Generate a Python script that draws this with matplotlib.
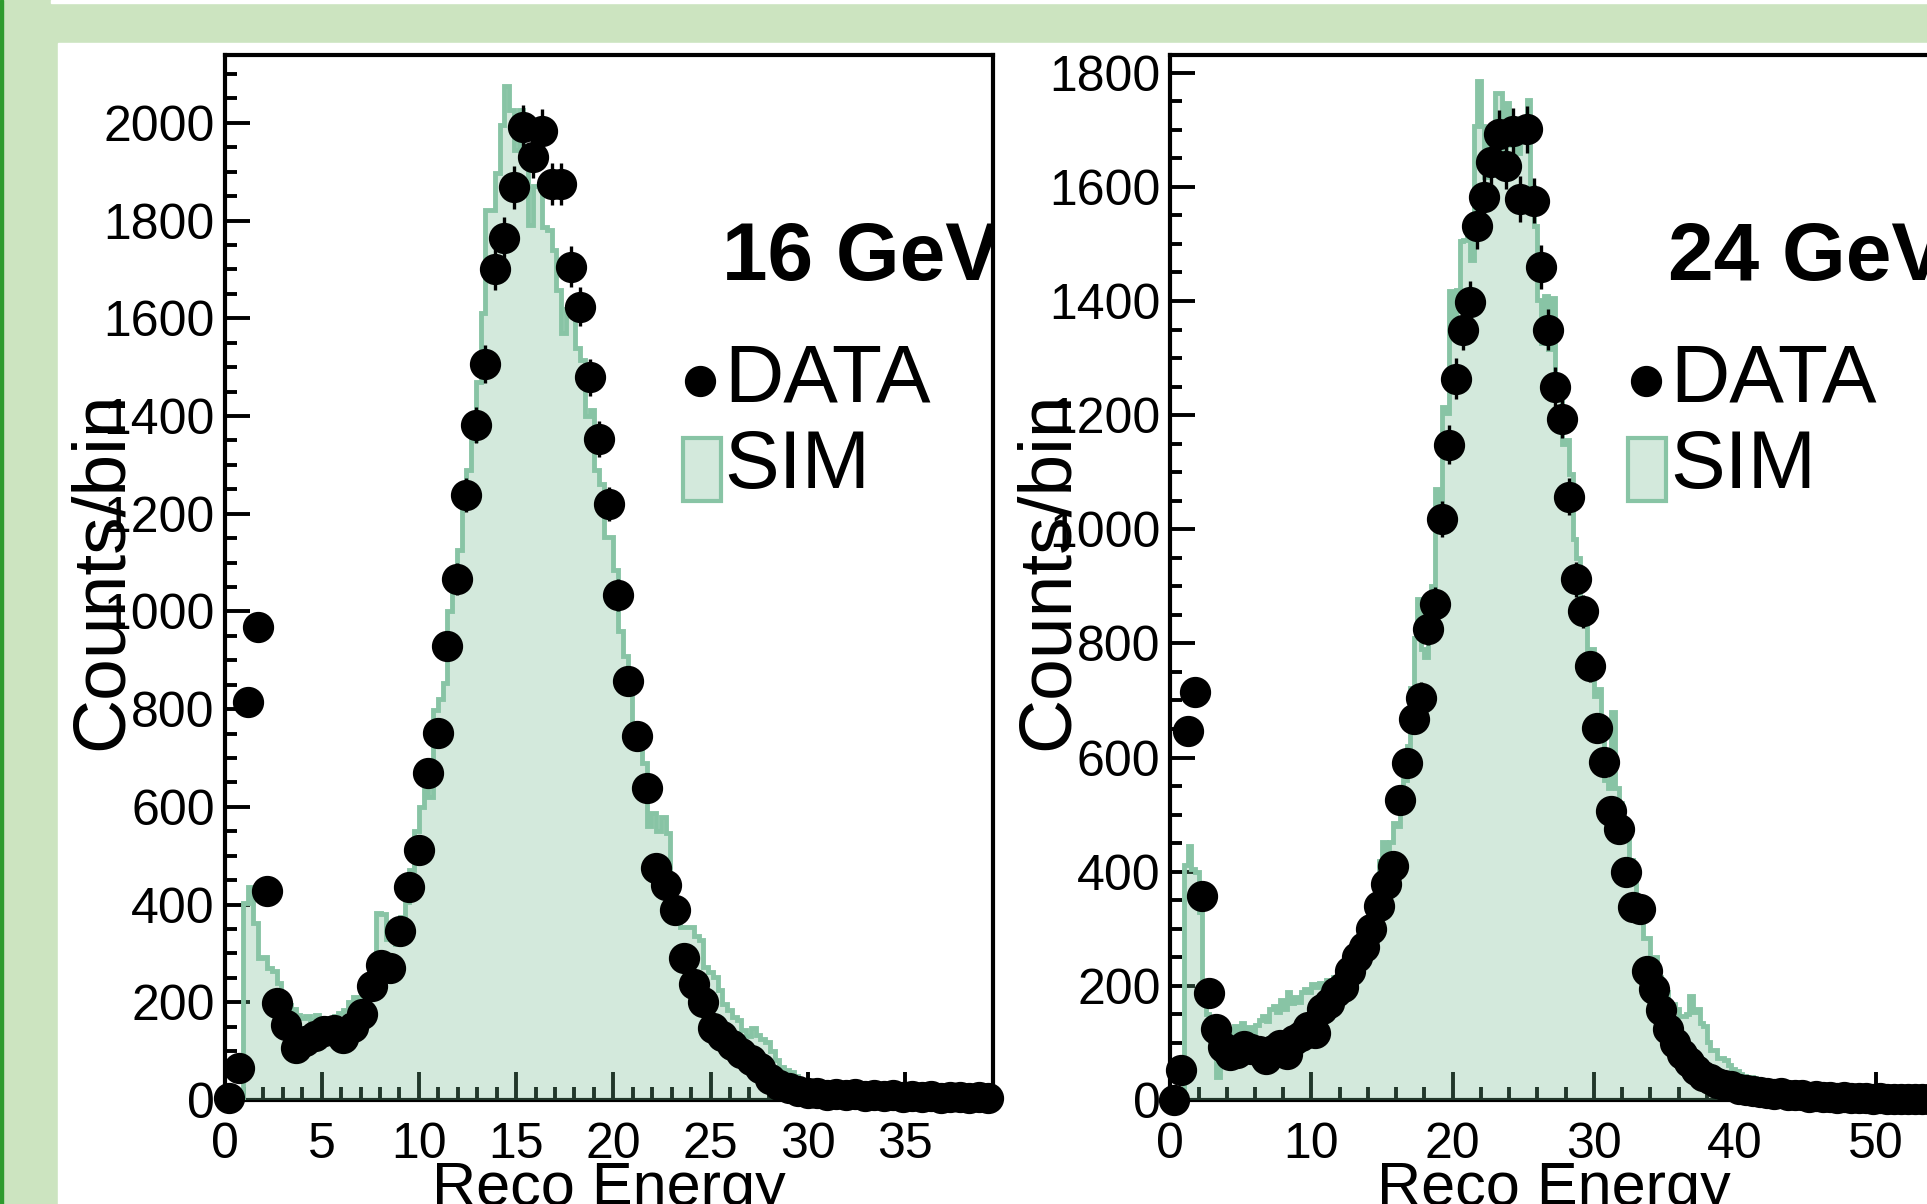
import matplotlib
matplotlib.use('Agg')
import matplotlib.pyplot as plt
from matplotlib.patches import Rectangle
from matplotlib.ticker import MultipleLocator
import numpy as np

plt.rcParams['font.family'] = ['Liberation Sans', 'DejaVu Sans']

W, H = 1927, 1204

# 16 GeV: data bins (82 bins over 0-40), sim bins half as wide
data16_width = 40 / 82
data16 = [5, 65, 815, 968, 428, 199, 153, 106, 120, 132,
          142, 143, 126, 150, 177, 234, 276, 270, 345, 437,
          512, 670, 752, 930, 1066, 1238, 1381, 1507, 1700, 1765,
          1868, 1992, 1931, 1984, 1875, 1875, 1706, 1624, 1479, 1353,
          1220, 1034, 858, 746, 638, 474, 441, 389, 290, 237,
          201, 147, 130, 113, 96, 82, 65, 44, 31, 24,
          18, 15, 14, 11, 13, 10, 12, 9, 11, 8,
          10, 7, 9, 6, 8, 5, 7, 6, 4, 6, 5]
sim16_width = 40 / 164
sim16 = [0, 0, 0, 0, 403, 437, 362, 290, 293, 270,
         264, 240, 215, 195, 187, 175, 168, 172, 163, 175,
         160, 168, 162, 172, 178, 184, 200, 210, 205, 220,
         215, 232, 382, 380, 330, 340, 320, 375, 405, 470,
         550, 600, 635, 620, 798, 820, 853, 1000, 1040, 1126,
         1220, 1290, 1350, 1470, 1611, 1822, 1822, 1897, 1996, 2075,
         2027, 1945, 2027, 1945, 1791, 1870, 1870, 1787, 1780, 1740,
         1658, 1570, 1620, 1611, 1540, 1515, 1400, 1413, 1290, 1260,
         1153, 1153, 1085, 960, 908, 850, 760, 740, 690, 560,
         587, 550, 580, 546, 437, 400, 355, 355, 355, 335,
         328, 273, 262, 252, 225, 197, 184, 170, 164, 143,
         130, 147, 133, 125, 119, 100, 82, 68, 62, 58,
         50, 40, 35, 30, 28, 24, 22, 20, 18, 17,
         15, 14, 13, 12, 11, 10, 10, 9, 8, 8,
         7, 7, 6, 6, 5, 5, 5, 4, 4, 4,
         3, 3, 3, 3, 2, 2, 2, 2, 2, 1,
         1, 1, 1, 1]

# 24 GeV
data24_width = 0.5
data24 = [0, 53, 646, 715, 358, 188, 125, 93, 78, 82,
          95, 90, 85, 72, 88, 97, 80, 105, 112, 128,
          118, 160, 170, 190, 198, 226, 250, 268, 300, 340,
          378, 410, 525, 590, 668, 705, 826, 869, 1018, 1148,
          1264, 1350, 1398, 1531, 1583, 1644, 1693, 1636, 1697, 1579,
          1701, 1576, 1460, 1350, 1249, 1194, 1057, 912, 856, 760,
          651, 593, 507, 474, 400, 338, 334, 226, 194, 157,
          125, 100, 80, 66, 52, 42, 36, 30, 26, 24,
          20, 18, 16, 14, 13, 10, 12, 9, 8, 9,
          6, 7, 5, 6, 4, 5, 3, 4, 3, 2,
          3, 2, 2, 1, 2, 1, 1, 1, 0]
sim24_width = 0.25
sim24 = [0, 0, 0, 0, 412, 445, 405, 400, 330, 182,
         150, 120, 100, 40, 80, 110, 125, 112, 130, 118,
         135, 122, 128, 115, 132, 140, 148, 138, 160, 165,
         155, 175, 160, 189, 170, 180, 172, 189, 195, 189,
         203, 198, 205, 196, 210, 203, 216, 208, 215, 222,
         216, 229, 250, 270, 262, 285, 300, 320, 350, 418,
         452, 430, 452, 486, 480, 510, 560, 620, 722, 810,
         877, 790, 776, 850, 900, 1070, 1016, 1215, 1204, 1418,
         1363, 1419, 1505, 1507, 1512, 1472, 1707, 1785, 1707, 1618,
         1700, 1650, 1764, 1764, 1650, 1747, 1674, 1700, 1660, 1720,
         1680, 1753, 1600, 1531, 1402, 1327, 1408, 1315, 1405, 1258,
         1251, 1150, 1157, 1097, 983, 950, 877, 850, 742, 790,
         708, 720, 640, 560, 546, 680, 546, 520, 472, 459,
         420, 405, 351, 320, 283, 283, 243, 250, 215, 202,
         190, 169, 169, 160, 148, 148, 150, 182, 155, 160,
         135, 130, 101, 88, 88, 74, 74, 70, 61, 55,
         50, 45, 42, 40, 40, 38, 35, 33, 30, 32,
         28, 27, 30, 33, 27, 22, 20, 19, 18, 17,
         16, 15, 14, 13, 12, 11, 11, 10, 9, 9,
         8, 8, 7, 7, 6, 6, 6, 5, 5, 5,
         4, 4, 4, 4, 3, 3, 3, 3, 3, 2,
         2, 2, 2, 2, 2, 1, 1, 1, 1, 1]

FILL = (0.435, 0.722, 0.549, 0.3)
EDGE = '#88c4a5'


def fx(x):
    return x / W


def fy(y):
    return 1 - y / H


fig = plt.figure(figsize=(W / 100, H / 100), dpi=100, facecolor='#cce4c0')
# slide background pieces, kept behind the axes
fig.patches.append(Rectangle((0, 0), 3 / W, 1, transform=fig.transFigure, color='#2e9b2e', zorder=-10))
fig.patches.append(Rectangle((fx(58), 0), 1, fy(43), transform=fig.transFigure, color='white', zorder=-10))
fig.patches.append(Rectangle((fx(51), fy(3)), 1, 3 / H, transform=fig.transFigure, color='white', zorder=-10))


def panel(left, data, dw, sim, sw, xmax, ymax, xmajor, xminor, energy):
    ax = fig.add_axes([fx(left), fy(1100), 768 / W, 1045 / H])
    ax.set_facecolor('white')

    edges = np.arange(len(sim) + 1) * sw
    ax.stairs(sim, edges, fill=True, color=FILL, lw=0, zorder=3)
    ax.stairs(sim, edges, color=EDGE, lw=3.5, zorder=3.1)

    counts = np.array(data, dtype=float)
    centers = (np.arange(len(counts)) + 0.5) * dw
    keep = centers < xmax
    eb = ax.errorbar(centers[keep], counts[keep], yerr=np.sqrt(counts[keep]), fmt='o',
                     color='black', ms=21.5, elinewidth=2.4, capsize=0, zorder=5)
    for art in eb.get_children():
        art.set_clip_on(False)

    ax.set_xlim(0, xmax)
    ax.set_ylim(0, ymax)
    ax.xaxis.set_major_locator(MultipleLocator(xmajor))
    ax.xaxis.set_minor_locator(MultipleLocator(xminor))
    ax.yaxis.set_major_locator(MultipleLocator(200))
    ax.yaxis.set_minor_locator(MultipleLocator(50))
    ax.tick_params(which='both', direction='in', top=False, right=False,
                   width=2.8, colors='black', labelsize=36)
    ax.tick_params(axis='y', which='major', length=18, pad=7)
    ax.tick_params(axis='y', which='minor', length=8.5)
    ax.tick_params(axis='x', which='major', length=20, pad=16)
    ax.tick_params(axis='x', which='minor', length=9.5)
    for s in ax.spines.values():
        s.set_linewidth(3)

    ax.text(fx(left + 497.5), fy(280), f'{energy} GeV', transform=fig.transFigure,
            fontsize=59, fontweight='bold', va='baseline', clip_on=True)

    ax.plot([fx(left + 475.5)], [fy(381)], 'o', color='black', ms=21.5,
            transform=fig.transFigure, clip_on=False, zorder=6)
    ax.text(fx(left + 500), fy(402), 'DATA', transform=fig.transFigure,
            fontsize=59, va='baseline')
    ax.add_patch(Rectangle((fx(left + 458), fy(501)), 38 / W, 63 / H, transform=fig.transFigure,
                           facecolor=FILL, edgecolor=EDGE, lw=3, clip_on=False, zorder=6))
    ax.text(fx(left + 500), fy(488), 'SIM', transform=fig.transFigure,
            fontsize=59, va='baseline')

    fig.text(fx(left - 103), fy(571), 'Counts/bin', rotation=90, rotation_mode='anchor',
             ha='center', va='baseline', fontsize=54)
    fig.text(fx(left + 384), fy(1205), 'Reco Energy', ha='center', va='baseline', fontsize=44)
    return ax


panel(224.5, data16, data16_width, sim16, sim16_width, 39.5, 2139, 5, 1, 16)
panel(1170.3, data24, data24_width, sim24, sim24_width, 54.4, 1831, 10, 2, 24)

fig.savefig('out.png', dpi=100, facecolor=fig.get_facecolor())
